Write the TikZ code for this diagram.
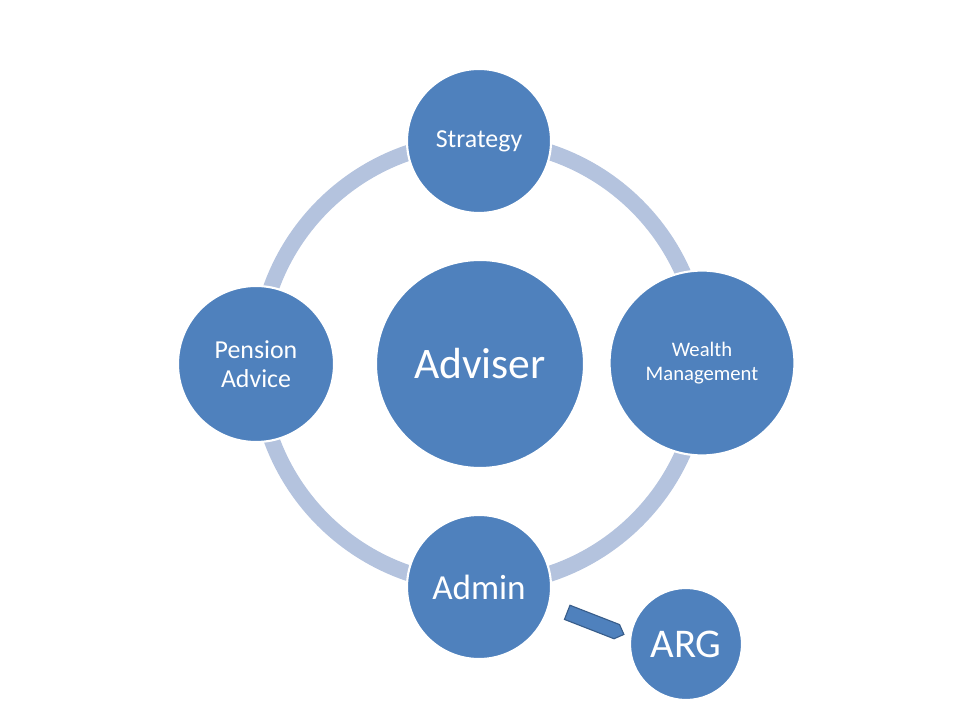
\documentclass[tikz,border=0pt]{standalone}
\usepackage{fontspec}
\setmainfont{Carlito}
\usetikzlibrary{shapes.arrows}

\definecolor{bubble}{HTML}{4F81BD}
\definecolor{ringblue}{HTML}{B4C3DE}
\definecolor{edgeblue}{HTML}{385D8A}

\begin{document}
\begin{tikzpicture}[x=0.025cm, y=-0.025cm,
        bubble/.style={circle, fill=bubble, draw=white, line width=1.5pt, text=white, align=center, inner sep=0pt},
        pointer/.style={single arrow, fill=bubble, draw=edgeblue, line width=0.8pt, single arrow head extend=0pt,
            single arrow tip angle=90, minimum height=1.52cm, minimum width=0.38cm, inner sep=0pt}]
        \useasboundingbox (0,0) rectangle (960,720);

        % The ring that joins the outer circles
        \draw[ringblue, line width=0.4cm] (480,363) circle (222);

        % Circles round the ring and in the middle
        \node[bubble, minimum size=5.2cm, font=\fontsize{31}{36}\selectfont] (adviser) at (480,364) {Adviser};
        \node[bubble, minimum size=3.6cm, font=\fontsize{18.4}{22}\selectfont] (strategy) at (479,141) {Strategy};
        \node[bubble, minimum size=3.9cm, font=\fontsize{18.4}{20.5}\selectfont] (pension) at (256,364) {Pension\\Advice};
        \node[bubble, minimum size=4.62cm, font=\fontsize{14.7}{17}\selectfont] (wealth) at (702,363) {Wealth\\Management};
        \node[bubble, minimum size=3.6cm, font=\fontsize{25}{30}\selectfont] (admin) at (479,587) {Admin};
        \node[bubble, minimum size=2.8cm, font=\fontsize{29}{34}\selectfont] (arg) at (686,644) {ARG};

        % Block arrow from Admin towards ARG
        \node[pointer, rotate=-21.3] (link) at (592,622) {};
    \end{tikzpicture}
\end{document}
